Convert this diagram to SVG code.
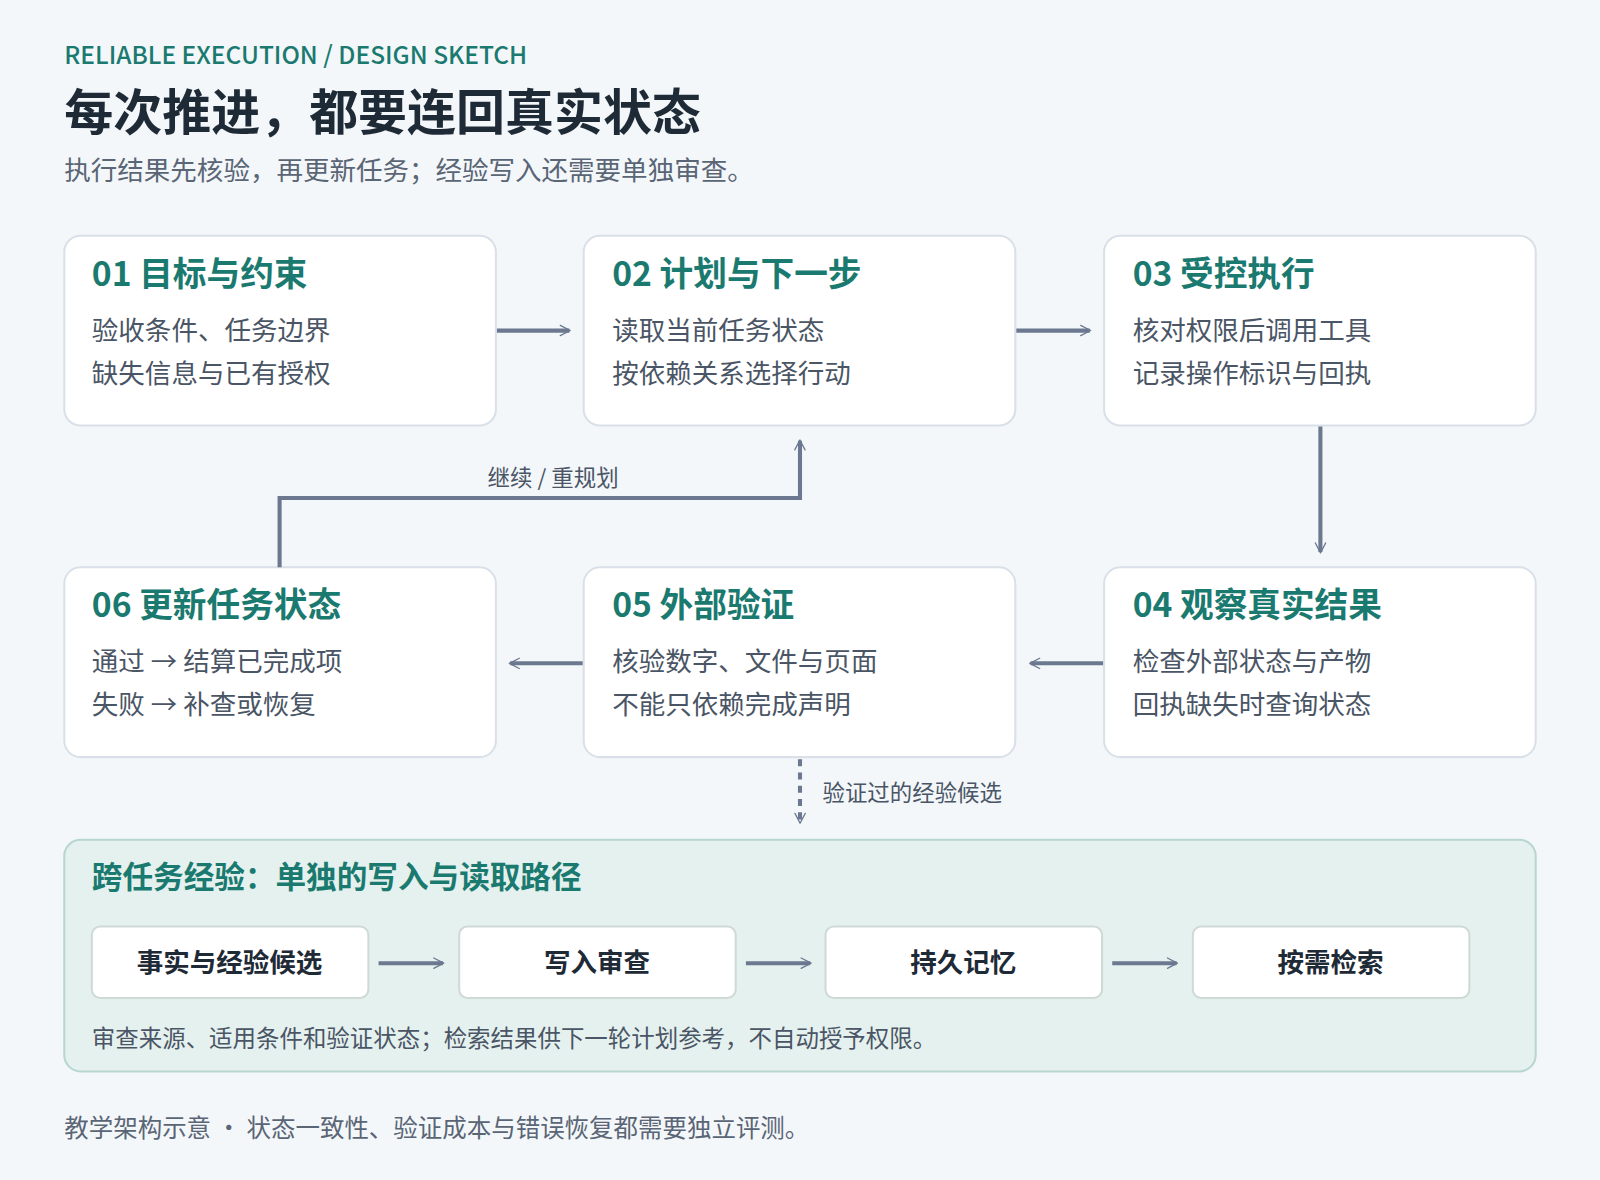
<svg xmlns="http://www.w3.org/2000/svg" width="1600" height="1180" viewBox="0 0 1600 1180">
<style>
text{font-family:"Noto Sans CJK SC","Noto Sans",sans-serif}
.card{fill:#fff;stroke:#d9e0e8;stroke-width:2}
.ct{font-size:33px;font-weight:700;fill:#1b7a70}
.cl{font-size:26px;fill:#4a5565}
.con{fill:none;stroke:#6b7890;stroke-width:4}
.box{fill:#fff;stroke:#cfdad6;stroke-width:2}
.bt{font-size:26px;font-weight:700;fill:#1f2a37;text-anchor:middle}
</style>
<defs>
<marker id="a" viewBox="0 0 20 20" refX="17" refY="10" markerWidth="9" markerHeight="9" markerUnits="userSpaceOnUse" orient="auto" overflow="visible">
<path d="M-14,-6 L17,10 L-14,26" fill="none" stroke="#6b7890" stroke-width="4" stroke-linejoin="round" stroke-linecap="round" transform="scale(0.7) translate(10,4)"/>
</marker>
</defs>
<rect width="1600" height="1180" fill="#f3f7fa"/>
<g transform="scale(1.0204)">
<text x="63" y="63" font-size="24" fill="#1b7a70" font-weight="500">RELIABLE EXECUTION / DESIGN SKETCH</text>
<text x="63" y="127" font-size="48" font-weight="700" fill="#1f2a37">每次推进，都要连回真实状态</text>
<text x="63" y="176" font-size="26" fill="#5a6575">执行结果先核验，再更新任务；经验写入还需要单独审查。</text>

<g id="n1"><rect class="card" x="63" y="231" width="423" height="186" rx="16"/><text class="ct" x="90" y="280">01 目标与约束</text><text class="cl" x="90" y="333">验收条件、任务边界</text><text class="cl" x="90" y="375">缺失信息与已有授权</text></g>
<g id="n2"><rect class="card" x="572" y="231" width="423" height="186" rx="16"/><text class="ct" x="600" y="280">02 计划与下一步</text><text class="cl" x="600" y="333">读取当前任务状态</text><text class="cl" x="600" y="375">按依赖关系选择行动</text></g>
<g id="n3"><rect class="card" x="1082" y="231" width="423" height="186" rx="16"/><text class="ct" x="1110" y="280">03 受控执行</text><text class="cl" x="1110" y="333">核对权限后调用工具</text><text class="cl" x="1110" y="375">记录操作标识与回执</text></g>
<g id="n4"><rect class="card" x="1082" y="556" width="423" height="186" rx="16"/><text class="ct" x="1110" y="605">04 观察真实结果</text><text class="cl" x="1110" y="658">检查外部状态与产物</text><text class="cl" x="1110" y="700">回执缺失时查询状态</text></g>
<g id="n5"><rect class="card" x="572" y="556" width="423" height="186" rx="16"/><text class="ct" x="600" y="605">05 外部验证</text><text class="cl" x="600" y="658">核验数字、文件与页面</text><text class="cl" x="600" y="700">不能只依赖完成声明</text></g>
<g id="n6"><rect class="card" x="63" y="556" width="423" height="186" rx="16"/><text class="ct" x="90" y="605">06 更新任务状态</text><text class="cl" x="90" y="658">通过 → 结算已完成项</text><text class="cl" x="90" y="700">失败 → 补查或恢复</text></g>

<g id="mem">
<rect x="63" y="823" width="1442" height="227" rx="16" fill="#e5f1ee" stroke="#b7d6cd" stroke-width="2"/>
<text x="90" y="870" font-size="30" font-weight="700" fill="#1b7a70">跨任务经验：单独的写入与读取路径</text>
<g id="m1"><rect class="box" x="90" y="908" width="271" height="70" rx="8"/><text class="bt" x="225" y="953">事实与经验候选</text></g>
<g id="m2"><rect class="box" x="450" y="908" width="271" height="70" rx="8"/><text class="bt" x="585" y="953">写入审查</text></g>
<g id="m3"><rect class="box" x="809" y="908" width="271" height="70" rx="8"/><text class="bt" x="944" y="953">持久记忆</text></g>
<g id="m4"><rect class="box" x="1169" y="908" width="271" height="70" rx="8"/><text class="bt" x="1304" y="953">按需检索</text></g>
<text x="90" y="1026" font-size="23" fill="#4a5565">审查来源、适用条件和验证状态；检索结果供下一轮计划参考，不自动授予权限。</text>
</g>

<g id="connectors">
<line class="con" x1="487" y1="324" x2="558" y2="324" marker-end="url(#a)"/>
<line class="con" x1="996" y1="324" x2="1068" y2="324" marker-end="url(#a)"/>
<line class="con" x1="1294" y1="418" x2="1294" y2="541" marker-end="url(#a)"/>
<line class="con" x1="1081" y1="650" x2="1010" y2="650" marker-end="url(#a)"/>
<line class="con" x1="571" y1="650" x2="500" y2="650" marker-end="url(#a)"/>
<path class="con" d="M274,556 V488 H784 V432" marker-end="url(#a)"/>
<text x="542" y="476" font-size="22" fill="#4a5565" text-anchor="middle">继续 / 重规划</text>
<line class="con" x1="784" y1="744" x2="784" y2="806" stroke-dasharray="7 6" marker-end="url(#a)"/>
<text x="806" y="785" font-size="22" fill="#4a5565">验证过的经验候选</text>
<line class="con" x1="371" y1="944" x2="434" y2="944" marker-end="url(#a)"/>
<line class="con" x1="731" y1="944" x2="794" y2="944" marker-end="url(#a)"/>
<line class="con" x1="1090" y1="944" x2="1153" y2="944" marker-end="url(#a)"/>
</g>

<text x="63" y="1114" font-size="24" fill="#5a6575">教学架构示意 · 状态一致性、验证成本与错误恢复都需要独立评测。</text>
</g>
</svg>
